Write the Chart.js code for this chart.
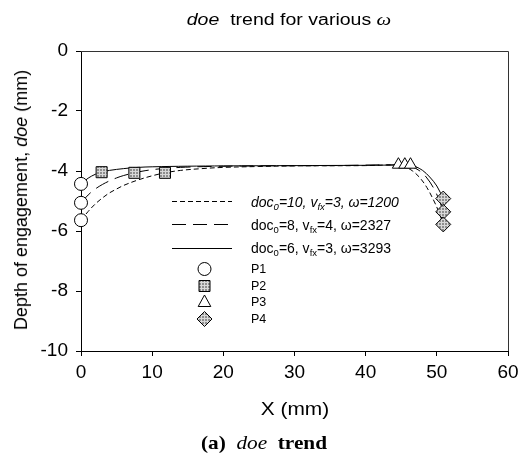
<!DOCTYPE html>
<html><head><meta charset="utf-8">
<script src="https://cdn.jsdelivr.net/npm/chart.js@4.4.1/dist/chart.umd.min.js"></script>
<style>
html,body{margin:0;padding:0;background:#fff;}
#wrap{position:relative;width:531px;height:455px;overflow:hidden;}
#c{position:absolute;left:0;top:0;}
.t{position:absolute;font-family:"Liberation Sans",Arial,sans-serif;color:#000;white-space:nowrap;line-height:1;}
.lg{font-size:14px;transform:translateY(-50%);left:251px;}
.lg sub{font-size:9.5px;vertical-align:-3px;line-height:0;}
</style></head><body>
<div id="wrap">
<canvas id="c" width="531" height="455"></canvas>
<div class="t" style="left:289px;top:19px;transform:translate(-50%,-50%) scaleX(1.22);font-size:16px;"><i>doe</i>&nbsp; trend for various <i style="font-family:'Liberation Serif',serif;font-size:17px;">ω</i></div>
<div class="t" style="left:21px;top:200px;transform:translate(-50%,-50%) rotate(-90deg);font-size:18px;">Depth of engagement, <i>doe</i> (mm)</div>
<div class="t" style="left:295px;top:408px;transform:translate(-50%,-50%) scaleX(1.1);font-size:19px;">X (mm)</div>
<div class="t" style="left:264px;top:442px;transform:translate(-50%,-50%) scaleX(1.12);font-size:19px;font-family:'Liberation Serif','Times New Roman',serif;font-weight:bold;">(a)&nbsp; <i style="font-weight:normal;">doe</i>&nbsp; trend</div>
<div class="t lg" style="top:202px;font-style:italic;">doc<sub>0</sub>=10, v<sub>fx</sub>=3, ω=1200</div>
<div class="t lg" style="top:225px;">doc<sub>0</sub>=8, v<sub>fx</sub>=4, ω=2327</div>
<div class="t lg" style="top:248px;">doc<sub>0</sub>=6, v<sub>fx</sub>=3, ω=3293</div>
<div class="t lg" style="top:269px;font-size:12.5px;">P1</div>
<div class="t lg" style="top:286px;font-size:12.5px;">P2</div>
<div class="t lg" style="top:302px;font-size:12.5px;">P3</div>
<div class="t lg" style="top:319px;font-size:12.5px;">P4</div>
</div>
<script>
// ---- data ----
const xTickValues = [0, 10, 20, 30, 40, 50, 60];
const yTickValues = [0, -2, -4, -6, -8, -10];

const curve1200X = [0, 1, 2, 3, 4, 5, 6, 8, 10, 11.8, 14, 17, 20, 25, 30, 40, 44.6, 45.6, 46.6, 47.6, 48.6, 49.6, 50.3, 50.9];
const curve1200Y = [-5.64, -5.35, -5.1, -4.9, -4.73, -4.6, -4.48, -4.3, -4.16, -4.06, -3.98, -3.92, -3.88, -3.85, -3.83, -3.82, -3.8, -3.87, -4.0, -4.22, -4.55, -5.0, -5.38, -5.78];

const curve2327X = [0, 1, 2, 3, 4, 5, 6, 7.5, 9, 11, 14, 18, 25, 35, 45.5, 46.5, 47.5, 48.5, 49.5, 50.3, 50.9];
const curve2327Y = [-5.06, -4.8, -4.6, -4.45, -4.33, -4.23, -4.15, -4.06, -3.99, -3.93, -3.88, -3.85, -3.83, -3.82, -3.8, -3.86, -3.98, -4.2, -4.55, -4.95, -5.36];

const curve3293X = [0, 1, 2, 2.9, 4, 6, 8, 10, 15, 20, 30, 40, 44, 46.3, 47, 48, 49, 50, 50.9];
const curve3293Y = [-4.43, -4.24, -4.11, -4.04, -3.98, -3.92, -3.88, -3.86, -3.84, -3.83, -3.82, -3.81, -3.8, -3.79, -3.85, -3.98, -4.2, -4.5, -4.92];

const p1X = [0, 0, 0];          const p1Y = [-4.43, -5.06, -5.64];
const p2X = [2.9, 7.5, 11.8];   const p2Y = [-4.04, -4.06, -4.06];
const p3X = [44.6, 45.5, 46.3]; const p3Y = [-3.79, -3.79, -3.79];
const p4X = [50.9, 50.9, 50.9]; const p4Y = [-4.92, -5.36, -5.78];

const seriesLabels = ['doc0=10, vfx=3, ω=1200', 'doc0=8, vfx=4, ω=2327', 'doc0=6, vfx=3, ω=3293', 'P1', 'P2', 'P3', 'P4'];

// ---- helpers ----
function pts(xs, ys) { return xs.map((x, i) => ({x: x, y: ys[i]})); }
function hatch() {
  const c = document.createElement('canvas'); c.width = 3; c.height = 3;
  const g = c.getContext('2d');
  g.fillStyle = '#8e8e8e'; g.fillRect(0, 0, 3, 3);
  g.fillStyle = '#d8d8d8'; g.fillRect(0, 0, 3, 1); g.fillRect(0, 0, 1, 3);
  return g.createPattern(c, 'repeat');
}
const pat = hatch();
const DASH_S = [5, 3], DASH_L = [14, 7];

const lineDS = (label, xs, ys, dash) => ({
  label: label, data: pts(xs, ys), showLine: true, borderColor: '#000', borderWidth: 1,
  borderDash: dash, pointRadius: 0, tension: 0.35, fill: false, order: 2, clip: false
});
const markDS = (label, xs, ys, style, r, bg) => ({
  label: label, data: pts(xs, ys), showLine: false, pointStyle: style, pointRadius: r,
  pointBackgroundColor: bg, pointBorderColor: '#000', pointBorderWidth: 1, order: 1, clip: false
});

const boxPlugin = {
  id: 'box',
  afterDraw(chart) {
    const {ctx, chartArea: a} = chart;
    ctx.save();
    ctx.strokeStyle = '#333'; ctx.lineWidth = 1;
    ctx.beginPath();
    ctx.moveTo(a.left, a.top + 0.5); ctx.lineTo(a.right + 0.5, a.top + 0.5); ctx.lineTo(a.right + 0.5, a.bottom);
    ctx.stroke();
    // legend samples
    ctx.strokeStyle = '#000';
    const rows = [[201.5, DASH_S], [224.5, DASH_L], [248.5, []]];
    rows.forEach(([y, d]) => {
      ctx.setLineDash(d); ctx.beginPath(); ctx.moveTo(172, y); ctx.lineTo(232, y); ctx.stroke();
    });
    ctx.setLineDash([]);
    const cx = 204.5;
    ctx.beginPath(); ctx.arc(cx, 269, 6.5, 0, Math.PI * 2); ctx.fillStyle = '#fff'; ctx.fill(); ctx.stroke();
    ctx.beginPath(); ctx.rect(cx - 5.5, 286 - 5.5, 11, 11); ctx.fillStyle = pat; ctx.fill(); ctx.stroke();
    ctx.beginPath(); ctx.moveTo(cx, 302 - 7); ctx.lineTo(cx + 6.3, 302 + 4.5); ctx.lineTo(cx - 6.3, 302 + 4.5); ctx.closePath();
    ctx.fillStyle = '#fff'; ctx.fill(); ctx.stroke();
    ctx.beginPath(); ctx.moveTo(cx, 319 - 7.5); ctx.lineTo(cx + 7.5, 319); ctx.lineTo(cx, 319 + 7.5); ctx.lineTo(cx - 7.5, 319); ctx.closePath();
    ctx.fillStyle = pat; ctx.fill(); ctx.stroke();
    ctx.restore();
  }
};

new Chart(document.getElementById('c'), {
  type: 'scatter',
  data: {
    datasets: [
      lineDS(seriesLabels[0], curve1200X, curve1200Y, DASH_S),
      lineDS(seriesLabels[1], curve2327X, curve2327Y, DASH_L),
      lineDS(seriesLabels[2], curve3293X, curve3293Y, []),
      markDS(seriesLabels[3], p1X, p1Y, 'circle', 6.5, '#fff'),
      markDS(seriesLabels[4], p2X, p2Y, 'rect', 7.8, pat),
      markDS(seriesLabels[5], p3X, p3Y, 'triangle', 7, '#fff'),
      markDS(seriesLabels[6], p4X, p4Y, 'rectRot', 7.5, pat)
    ]
  },
  options: {
    responsive: false, animation: false, devicePixelRatio: 1,
    layout: {padding: {left: 0, top: 51, right: 23, bottom: 0}},
    plugins: {legend: {display: false}, tooltip: {enabled: false}, title: {display: false}},
    scales: {
      x: {
        type: 'linear', min: 0, max: 60,
        afterBuildTicks: s => { s.ticks = xTickValues.map(v => ({value: v})); },
        afterFit: s => { s.height = 104; },
        ticks: {color: '#000', font: {family: '"Liberation Sans", Arial, sans-serif', size: 19}, padding: 5, maxRotation: 0},
        grid: {drawOnChartArea: false, tickLength: 5, color: '#000'},
        border: {color: '#000', width: 1}
      },
      y: {
        type: 'linear', min: -10, max: 0,
        afterBuildTicks: s => { s.ticks = yTickValues.map(v => ({value: v})); },
        afterFit: s => { s.width = 81; },
        ticks: {color: '#000', font: {family: '"Liberation Sans", Arial, sans-serif', size: 19}, padding: 8},
        grid: {drawOnChartArea: false, tickLength: 5, color: '#000'},
        border: {color: '#000', width: 1}
      }
    }
  },
  plugins: [boxPlugin]
});
</script>
</body></html>
